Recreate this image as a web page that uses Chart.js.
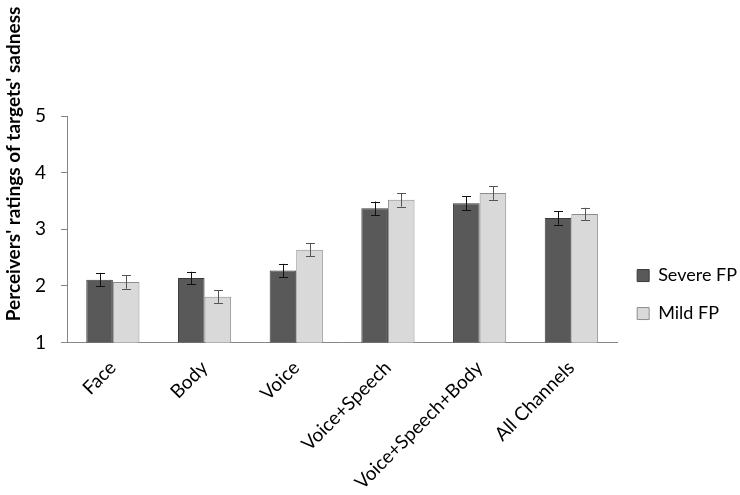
<!DOCTYPE html>
<html>
<head>
<meta charset="utf-8">
<script src="https://cdn.jsdelivr.net/npm/chart.js@4"></script>
<style>
  html, body { margin: 0; padding: 0; background: #fff; }
</style>
</head>
<body>
<canvas id="chart" width="740" height="495"></canvas>
<script>
// categories and values
const channels = ['Face', 'Body', 'Voice', 'Voice+Speech', 'Voice+Speech+Body', 'All Channels'];
const severeFP = [2.11, 2.14, 2.27, 3.37, 3.46, 3.20];
const mildFP = [2.07, 1.81, 2.64, 3.52, 3.64, 3.27];
const severeErr = [0.12, 0.11, 0.12, 0.12, 0.12, 0.12];
const mildErr = [0.12, 0.11, 0.12, 0.12, 0.12, 0.11];
const yTicks = [1, 2, 3, 4, 5];
const yTitle = "Perceivers' ratings of targets' sadness";

Chart.defaults.font.family = 'Lato, "Open Sans", sans-serif';
Chart.defaults.color = '#000';

// draws the error whiskers on top of each bar
const errorBars = {
    id: 'errorBars',
    afterDatasetsDraw(chart) {
        const ctx = chart.ctx;
        const yScale = chart.scales.y;
        chart.data.datasets.forEach((ds, i) => {
            const meta = chart.getDatasetMeta(i);
            ctx.save();
            ctx.strokeStyle = ds.errColor;
            ctx.lineWidth = 1;
            meta.data.forEach((bar, j) => {
                const v = ds.data[j];
                const e = ds.err[j];
                const top = yScale.getPixelForValue(v + e);
                const bottom = yScale.getPixelForValue(v - e);
                const x = Math.round(bar.x) + 0.5;
                ctx.beginPath();
                ctx.moveTo(x, top);
                ctx.lineTo(x, bottom);
                ctx.moveTo(x - 4.5, Math.round(top) + 0.5);
                ctx.lineTo(x + 4.5, Math.round(top) + 0.5);
                ctx.moveTo(x - 4.5, Math.round(bottom) + 0.5);
                ctx.lineTo(x + 4.5, Math.round(bottom) + 0.5);
                ctx.stroke();
            });
            ctx.restore();
        });
    }
};

// y title sits higher than the plot centre in the original, so it is drawn by hand
const sideTitle = {
    id: 'sideTitle',
    afterDraw(chart) {
        const ctx = chart.ctx;
        ctx.save();
        ctx.translate(14, 164);
        ctx.rotate(-Math.PI / 2);
        ctx.font = 'bold 19px Lato, "Open Sans", sans-serif';
        ctx.fillStyle = '#000';
        ctx.textAlign = 'center';
        ctx.textBaseline = 'middle';
        ctx.fillText(yTitle, 0, 0);
        ctx.restore();
    }
};

const ctx = document.getElementById('chart').getContext('2d');
new Chart(ctx, {
    type: 'bar',
    data: {
        labels: channels,
        datasets: [{
            label: 'Severe FP',
            data: severeFP,
            err: severeErr,
            errColor: '#111',
            backgroundColor: '#595959',
            borderColor: '#3a3a3a',
            borderWidth: 1
        }, {
            label: 'Mild FP',
            data: mildFP,
            err: mildErr,
            errColor: '#555',
            backgroundColor: '#d9d9d9',
            borderColor: '#8c8c8c',
            borderWidth: 1
        }]
    },
    options: {
        responsive: false,
        animation: false,
        layout: {
            padding: { top: 116, left: 20, right: -7, bottom: -5 }
        },
        datasets: {
            bar: {
                categoryPercentage: 0.58,
                barPercentage: 1
            }
        },
        plugins: {
            legend: {
                position: 'right',
                align: 'end',
                fullSize: false,
                labels: {
                    boxWidth: 12,
                    boxHeight: 12,
                    padding: 20,
                    font: { size: 18 },
                    color: '#000'
                }
            },
            tooltip: { enabled: false }
        },
        scales: {
            x: {
                grid: { display: false },
                border: { display: true, color: '#868686' },
                ticks: {
                    maxRotation: 45,
                    minRotation: 45,
                    padding: 6,
                    font: { size: 19 },
                    color: '#000'
                }
            },
            y: {
                min: 1,
                max: 5,
                afterBuildTicks(axis) {
                    axis.ticks = yTicks.map(v => ({ value: v }));
                },
                grid: {
                    drawOnChartArea: false,
                    drawTicks: true,
                    tickLength: 6,
                    color: '#868686'
                },
                border: { display: true, color: '#868686' },
                ticks: {
                    padding: 15,
                    font: { size: 19 },
                    color: '#000'
                }
            }
        }
    },
    plugins: [errorBars, sideTitle]
});
</script>
</body>
</html>
